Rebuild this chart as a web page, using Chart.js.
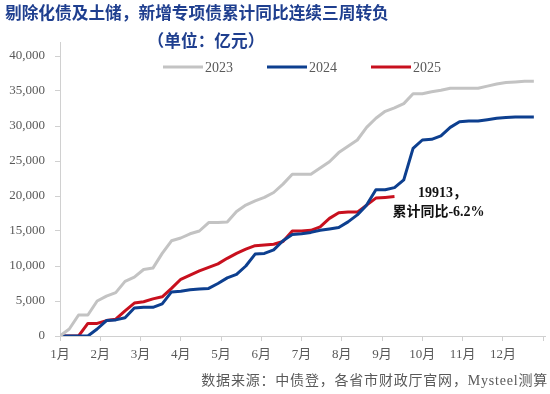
<!DOCTYPE html>
<html lang="zh">
<head>
  <meta charset="UTF-8">
  <title>新增专项债累计</title>
  <script src="https://cdn.jsdelivr.net/npm/chart.js"></script>
  <style>
    html, body { margin: 0; padding: 0; background: #fff; }
  </style>
</head>
<body>
<canvas id="myChart" width="550" height="394"></canvas>
<script>
  // weekly cumulative new special bonds (亿元), weeks from start of year
  const months = ['1月', '2月', '3月', '4月', '5月', '6月', '7月', '8月', '9月', '10月', '11月', '12月'];
  const yTicks = [0, 5000, 10000, 15000, 20000, 25000, 30000, 35000, 40000];
  const seriesNames = ['2023', '2024', '2025'];
  const data2023 = [0, 1000, 3000, 3000, 5000, 5700, 6200, 7800, 8400, 9500,
    9700, 11800, 13600, 14000, 14600, 15000, 16200, 16200, 16300, 17800,
    18700, 19300, 19800, 20500, 21700, 23100, 23100, 23100, 24000, 24900,
    26200, 27100, 28000, 29800, 31100, 32100, 32600, 33200, 34600, 34600,
    34900, 35100, 35400, 35400, 35400, 35400, 35700, 36000, 36200, 36300,
    36400, 36400];
  const data2024 = [0, 0, 0, 0, 1000, 2200, 2300, 2600, 4000, 4100,
    4100, 4600, 6300, 6400, 6600, 6700, 6800, 7500, 8300, 8800,
    10000, 11700, 11800, 12300, 13600, 14500, 14600, 14800, 15100, 15300,
    15500, 16300, 17300, 18700, 20900, 20900, 21200, 22300, 26800, 28000,
    28100, 28600, 29800, 30600, 30700, 30700, 30900, 31100, 31200, 31300,
    31300, 31300];
  const data2025 = [0, 0, 0, 1800, 1800, 2200, 2400, 3600, 4700, 4900,
    5300, 5600, 6800, 8100, 8700, 9300, 9800, 10300, 11100, 11800,
    12400, 12900, 13000, 13100, 13500, 15000, 15000, 15100, 15600, 16800,
    17600, 17700, 17700, 18700, 19700, 19800, 19913];
  const colors = ['#c3c3c3', '#0d3f8f', '#c8101e'];

  const WEEKS_PER_MONTH = 52 / 12;
  const toPoints = arr => arr.map((v, i) => ({ x: i, y: v }));

  const serif = '"Liberation Serif", "Noto Sans CJK SC", serif';
  const cjk = '"Noto Sans CJK SC", sans-serif';

  const decor = {
    id: 'decor',
    afterDraw(chart) {
      const ctx = chart.ctx;
      ctx.save();
      // title
      ctx.fillStyle = '#1f3f8f';
      ctx.font = 'bold 16.7px ' + cjk;
      ctx.textBaseline = 'middle';
      ctx.textAlign = 'left';
      ctx.fillText('剔除化债及土储，新增专项债累计同比连续三周转负', 5, 13);
      ctx.textAlign = 'center';
      ctx.fillText('（单位：亿元）', 206, 41);

      // legend
      ctx.font = '14px ' + serif;
      ctx.textAlign = 'left';
      seriesNames.forEach((name, i) => {
        const x0 = 163 + i * 104;
        ctx.strokeStyle = colors[i];
        ctx.lineWidth = 3;
        ctx.beginPath();
        ctx.moveTo(x0, 67);
        ctx.lineTo(x0 + 40, 67);
        ctx.stroke();
        ctx.fillStyle = '#595959';
        ctx.fillText(name, x0 + 42, 68);
      });

      // annotation at last 2025 point
      const xs = chart.scales.x, ys = chart.scales.y;
      const last = data2025.length - 1;
      const px = xs.getPixelForValue(last);
      const py = ys.getPixelForValue(data2025[last]);
      ctx.fillStyle = '#111';
      ctx.textAlign = 'center';
      ctx.font = 'bold 14px ' + serif;
      ctx.fillText(data2025[last] + '，', px + 48, py - 3);
      ctx.fillText('累计同比-6.2%', px + 44, py + 16);

      // source
      ctx.fillStyle = '#595959';
      ctx.font = '14px ' + serif;
      ctx.textAlign = 'right';
      ctx.letterSpacing = '0.8px';
      ctx.fillText('数据来源：中债登，各省市财政厅官网，Mysteel测算', 548, 381);
      ctx.restore();
    }
  };

  const ctx = document.getElementById('myChart').getContext('2d');
  const chart = new Chart(ctx, {
    type: 'line',
    data: {
      datasets: [data2023, data2024, data2025].map((arr, i) => ({
        label: seriesNames[i],
        data: toPoints(arr),
        borderColor: colors[i],
        backgroundColor: colors[i],
        borderWidth: 3,
        pointRadius: 0,
        tension: 0,
        borderJoinStyle: 'round'
      }))
    },
    options: {
      responsive: false,
      animation: false,
      layout: { padding: { top: 42, right: 5, left: 0, bottom: 0 } },
      plugins: {
        legend: { display: false },
        title: { display: false },
        tooltip: { enabled: false }
      },
      scales: {
        x: {
          type: 'linear',
          min: 0,
          max: 52.2,
          afterBuildTicks: scale => {
            scale.ticks = months.concat(['']).map((m, i) => ({ value: i * WEEKS_PER_MONTH }));
          },
          afterFit: scale => { scale.height = 58; },
          border: { display: true, color: '#d0d0d0', width: 1 },
          grid: { drawOnChartArea: false, drawTicks: true, tickLength: 5, color: '#d0d0d0' },
          ticks: {
            autoSkip: false,
            maxRotation: 0,
            padding: 6,
            color: '#595959',
            font: { family: serif, size: 13 },
            callback: value => months[Math.round(value / WEEKS_PER_MONTH)] || ''
          }
        },
        y: {
          min: 0,
          max: 42000,
          afterBuildTicks: scale => {
            scale.ticks = yTicks.map(v => ({ value: v }));
          },
          afterFit: scale => { scale.width = 60; },
          border: { display: true, color: '#d0d0d0', width: 1 },
          grid: { drawOnChartArea: false, drawTicks: true, tickLength: 5, color: '#d0d0d0' },
          ticks: {
            padding: 10,
            color: '#595959',
            font: { family: serif, size: 13 },
            callback: value => value.toLocaleString('en-US')
          }
        }
      }
    },
    plugins: [decor]
  });
</script>
</body>
</html>
